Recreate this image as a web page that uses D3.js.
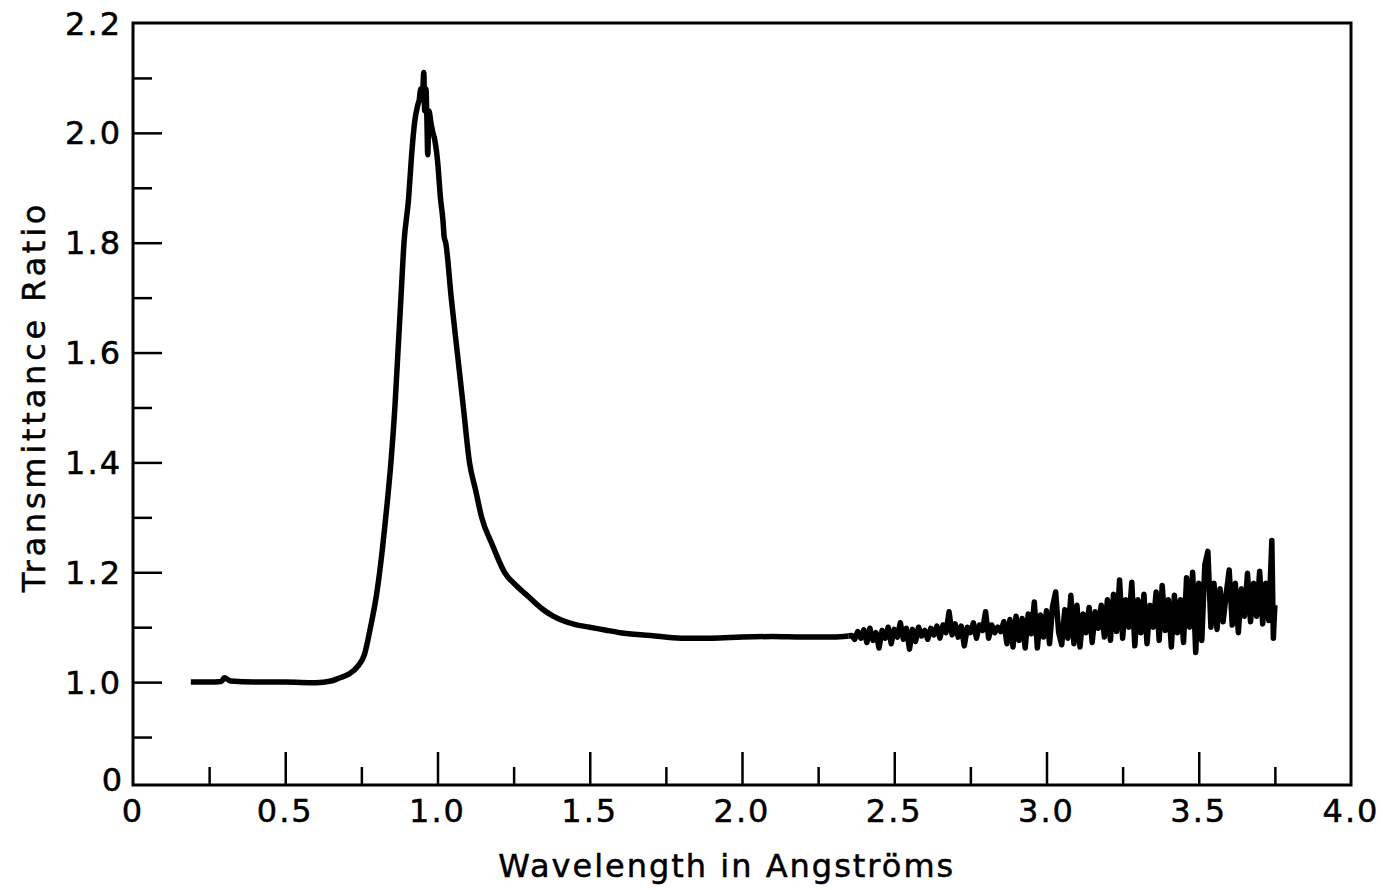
<!DOCTYPE html>
<html>
<head>
<meta charset="utf-8">
<script src="https://cdn.jsdelivr.net/npm/d3@7"></script>
<style>
  body { margin: 0; background: #fff; }
  svg { display: block; }
  text { font-family: "DejaVu Sans", sans-serif; fill: #000; stroke: #000; stroke-width: 0.5px; }
</style>
</head>
<body>
<svg width="1383" height="890"></svg>
<script>
// smooth part of the trace (wavelength in A, ratio)
var smoothX = [0.19, 0.25, 0.29, 0.30, 0.32, 0.40, 0.50, 0.60, 0.65, 0.68, 0.71, 0.74, 0.76, 0.78, 0.80,
  0.81, 0.83, 0.847, 0.86, 0.87, 0.88, 0.89, 0.905, 0.915, 0.925, 0.935, 0.94, 0.945, 0.95, 0.955,
  0.958, 0.962, 0.965, 0.968, 0.972, 0.978, 0.985, 0.99, 1.00, 1.01, 1.018, 1.022, 1.027, 1.045,
  1.065, 1.085, 1.105, 1.125, 1.145, 1.18, 1.22, 1.26, 1.30, 1.34, 1.38, 1.45, 1.50, 1.55, 1.60,
  1.70, 1.80, 1.90, 2.00, 2.10, 2.20, 2.30, 2.35];
var smoothY = [1.000, 1.000, 1.001, 1.008, 1.002, 1.000, 1.000, 0.999, 1.002, 1.008, 1.015, 1.03, 1.05, 1.10, 1.16,
  1.20, 1.30, 1.40, 1.50, 1.60, 1.70, 1.80, 1.88, 1.96, 2.02, 2.05, 2.06, 2.08, 2.06, 2.11,
  2.04, 2.08, 2.03, 1.96, 2.04, 2.02, 2.00, 1.99, 1.95, 1.88, 1.84, 1.81, 1.80, 1.70,
  1.60, 1.50, 1.40, 1.35, 1.30, 1.25, 1.20, 1.175, 1.155, 1.135, 1.12, 1.105, 1.10, 1.095, 1.09,
  1.085, 1.08, 1.08, 1.082, 1.083, 1.082, 1.082, 1.084];

// noisy tail, 2.36 .. 3.75
var noiseX = [2.36, 2.37, 2.38, 2.39, 2.40, 2.41, 2.42, 2.43, 2.44, 2.45,
  2.46, 2.47, 2.48, 2.49, 2.50, 2.51, 2.52, 2.53, 2.54, 2.55,
  2.56, 2.57, 2.58, 2.59, 2.60, 2.61, 2.62, 2.63, 2.64, 2.65,
  2.66, 2.67, 2.68, 2.69, 2.70, 2.71, 2.72, 2.73, 2.74, 2.75,
  2.76, 2.77, 2.78, 2.79, 2.80, 2.81, 2.82, 2.83, 2.84, 2.85,
  2.86, 2.87, 2.88, 2.89, 2.90, 2.91, 2.92, 2.93, 2.94, 2.95,
  2.96, 2.97, 2.98, 2.99, 3.00, 3.01, 3.02, 3.03, 3.04, 3.05,
  3.06, 3.07, 3.08, 3.09, 3.10, 3.11, 3.12, 3.13, 3.14, 3.15,
  3.16, 3.17, 3.18, 3.19, 3.20, 3.21, 3.22, 3.23, 3.24, 3.25,
  3.26, 3.27, 3.28, 3.29, 3.30, 3.31, 3.32, 3.33, 3.34, 3.35,
  3.36, 3.37, 3.38, 3.39, 3.40, 3.41, 3.42, 3.43, 3.44, 3.45,
  3.46, 3.47, 3.48, 3.49, 3.50, 3.51, 3.52, 3.53, 3.54, 3.55,
  3.56, 3.57, 3.58, 3.59, 3.60, 3.61, 3.62, 3.63, 3.64, 3.65,
  3.66, 3.67, 3.68, 3.69, 3.70, 3.71, 3.72, 3.73, 3.74, 3.745, 3.75];
var noiseY = [1.085, 1.078, 1.092, 1.080, 1.095, 1.072, 1.098, 1.076, 1.090, 1.062,
  1.094, 1.080, 1.100, 1.070, 1.096, 1.082, 1.108, 1.078, 1.098, 1.060,
  1.096, 1.074, 1.100, 1.084, 1.094, 1.078, 1.098, 1.086, 1.102, 1.080,
  1.104, 1.090, 1.128, 1.086, 1.106, 1.082, 1.102, 1.066, 1.100, 1.090,
  1.108, 1.080, 1.104, 1.094, 1.128, 1.080, 1.104, 1.090, 1.100, 1.092,
  1.110, 1.070, 1.114, 1.064, 1.120, 1.076, 1.116, 1.062, 1.124, 1.088,
  1.146, 1.062, 1.122, 1.082, 1.130, 1.070, 1.138, 1.164, 1.090, 1.068,
  1.132, 1.080, 1.158, 1.070, 1.140, 1.064, 1.124, 1.090, 1.136, 1.072,
  1.128, 1.098, 1.140, 1.082, 1.150, 1.076, 1.160, 1.092, 1.186, 1.080,
  1.150, 1.100, 1.182, 1.066, 1.150, 1.090, 1.160, 1.070, 1.140, 1.100,
  1.164, 1.076, 1.176, 1.094, 1.150, 1.064, 1.158, 1.090, 1.150, 1.072,
  1.190, 1.100, 1.200, 1.054, 1.180, 1.076, 1.214, 1.238, 1.100, 1.180,
  1.096, 1.170, 1.110, 1.160, 1.204, 1.104, 1.180, 1.090, 1.170, 1.120,
  1.198, 1.110, 1.180, 1.120, 1.202, 1.106, 1.180, 1.112, 1.258, 1.080, 1.140];

var xMajor = [0.5, 1.0, 1.5, 2.0, 2.5, 3.0, 3.5];
var xMinor = [0.25, 0.75, 1.25, 1.75, 2.25, 2.75, 3.25, 3.75];
var xLabels = [0, 0.5, 1.0, 1.5, 2.0, 2.5, 3.0, 3.5, 4.0];
var yMajor = [1.0, 1.2, 1.4, 1.6, 1.8, 2.0];
var yMinor = [0.9, 1.1, 1.3, 1.5, 1.7, 1.9, 2.1];
var yLabels = [1.0, 1.2, 1.4, 1.6, 1.8, 2.0, 2.2];
var yBottom = 0.8127; // broken axis: this level is labelled "0"

var svg = d3.select('svg');
var plotLeft = 133, plotRight = 1351, plotTop = 23, plotBottom = 785;

var x = d3.scaleLinear().domain([0, 4]).range([plotLeft, plotRight]);
var y = d3.scaleLinear().domain([yBottom, 2.2]).range([plotBottom, plotTop]);

// minor / major ticks, pointing inward
var g = svg.append('g');

g.append('g').attr('transform', 'translate(0,' + plotBottom + ')')
  .call(d3.axisBottom(x).tickValues(xMinor).tickSizeInner(-18).tickSizeOuter(0).tickFormat(''));
g.append('g').attr('transform', 'translate(0,' + plotBottom + ')')
  .call(d3.axisBottom(x).tickValues(xMajor).tickSizeInner(-33).tickSizeOuter(0).tickFormat(''));
g.append('g').attr('transform', 'translate(' + plotLeft + ',0)')
  .call(d3.axisLeft(y).tickValues(yMinor).tickSizeInner(-19).tickSizeOuter(0).tickFormat(''));
g.append('g').attr('transform', 'translate(' + plotLeft + ',0)')
  .call(d3.axisLeft(y).tickValues(yMajor).tickSizeInner(-29).tickSizeOuter(0).tickFormat(''));

g.selectAll('.domain').remove();
g.selectAll('.tick line').attr('stroke', '#000').attr('stroke-width', 2.5);

// frame
svg.append('rect')
  .attr('x', x(0)).attr('y', y(2.2))
  .attr('width', x(4) - x(0)).attr('height', y(yBottom) - y(2.2))
  .attr('fill', 'none').attr('stroke', '#000').attr('stroke-width', 3);

// tick labels
svg.append('g').selectAll('text')
  .data(xLabels)
  .enter().append('text')
    .attr('x', function(d) { return x(d); })
    .attr('y', plotBottom + 37)
    .attr('text-anchor', 'middle')
    .style('font-size', '32px')
    .style('letter-spacing', '2px')
    .text(function(d) { return d === 0 ? '0' : d.toFixed(1); });

svg.append('g').selectAll('text')
  .data(yLabels)
  .enter().append('text')
    .attr('x', plotLeft - 11)
    .attr('y', function(d) { return y(d); })
    .attr('dy', '0.36em')
    .attr('text-anchor', 'end')
    .style('font-size', '32px')
    .style('letter-spacing', '2px')
    .text(function(d) { return d.toFixed(1); });

svg.append('text')
  .attr('x', plotLeft - 11)
  .attr('y', y(yBottom))
  .attr('dy', '0.2em')
  .attr('text-anchor', 'end')
  .style('font-size', '32px')
  .text('0');

// axis titles
svg.append('text')
  .attr('x', (x(1.2) + x(2.7)) / 2)
  .attr('y', 877)
  .attr('text-anchor', 'middle')
  .style('font-size', '32px')
  .style('letter-spacing', '2px')
  .text('Wavelength in Angströms');

svg.append('text')
  .attr('transform', 'translate(45,' + y(1.52) + ') rotate(-90)')
  .attr('text-anchor', 'middle')
  .style('font-size', '32px')
  .style('letter-spacing', '3.8px')
  .text('Transmittance Ratio');

// trace: smooth part with a monotone curve, noisy tail straight segments
var smoothPts = smoothX.map(function(d, i) { return [d, smoothY[i]]; });
var noisePts = [smoothPts[smoothPts.length - 1]]
  .concat(noiseX.map(function(d, i) { return [d, noiseY[i]]; }));

var lineSmooth = d3.line()
  .curve(d3.curveMonotoneX)
  .x(function(d) { return x(d[0]); })
  .y(function(d) { return y(d[1]); });

var lineNoise = d3.line()
  .x(function(d) { return x(d[0]); })
  .y(function(d) { return y(d[1]); });

svg.append('path')
  .datum(smoothPts)
  .attr('d', lineSmooth)
  .attr('fill', 'none')
  .attr('stroke', '#000')
  .attr('stroke-width', 5.5)
  .attr('stroke-linejoin', 'round');

svg.append('path')
  .datum(noisePts)
  .attr('d', lineNoise)
  .attr('fill', 'none')
  .attr('stroke', '#000')
  .attr('stroke-width', 5.5)
  .attr('stroke-linejoin', 'round');
</script>
</body>
</html>
